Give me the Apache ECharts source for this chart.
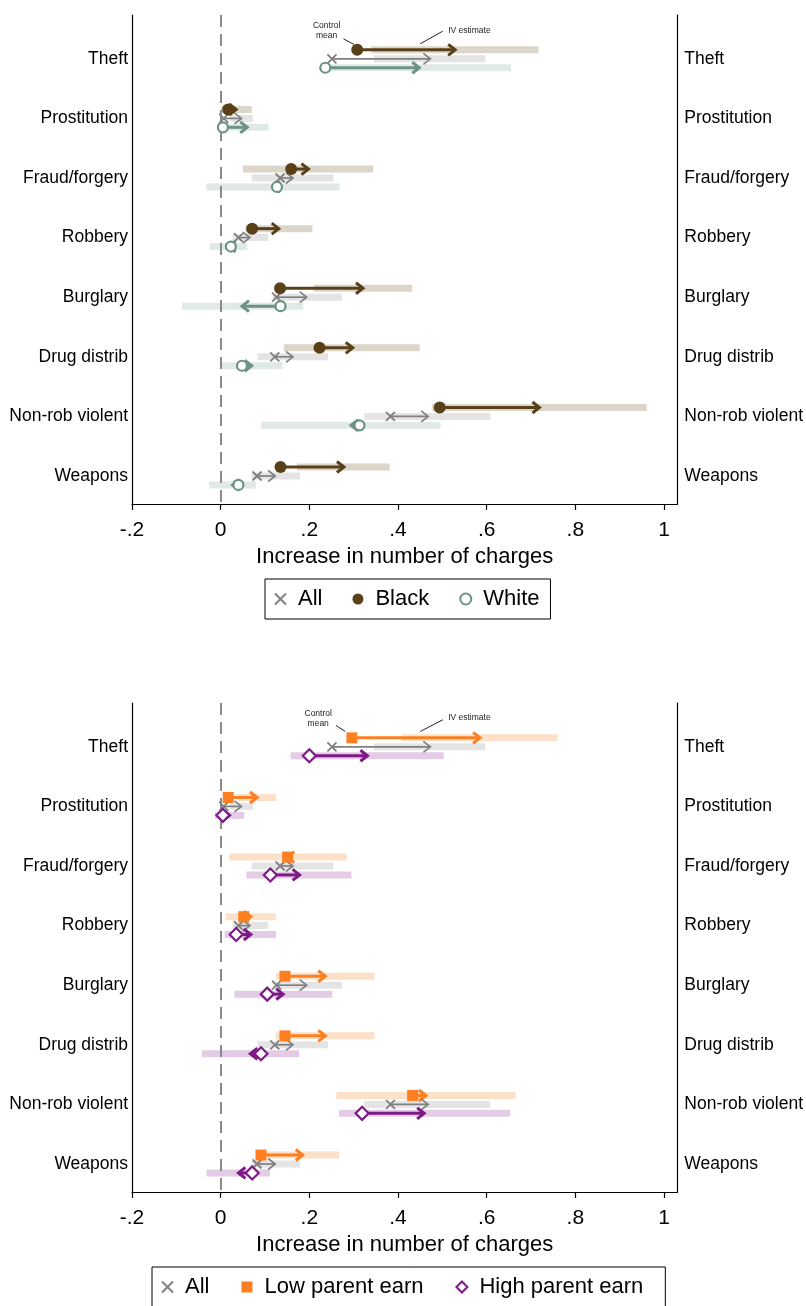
<!DOCTYPE html>
<html>
<head>
<meta charset="utf-8">
<script src="https://cdn.jsdelivr.net/npm/echarts@6/dist/echarts.min.js"></script>
<style>
  html, body { margin: 0; padding: 0; background: #fff; }
  #chart { width: 806px; height: 1306px; }
</style>
</head>
<body>
<div id="chart"></div>
<script>
// categories, top to bottom
const crimes = ['Theft', 'Prostitution', 'Fraud/forgery', 'Robbery', 'Burglary', 'Drug distrib', 'Non-rob violent', 'Weapons'];
const xTicks = [-0.2, 0, 0.2, 0.4, 0.6, 0.8, 1];
const yTicks = [0, 1, 2, 3, 4, 5, 6, 7];

// All (both panels): control mean, mean + IV estimate, CI low, CI high
const allMean = [0.251, 0.007, 0.134, 0.040, 0.126, 0.122, 0.383, 0.082];
const allEst  = [0.473, 0.047, 0.163, 0.066, 0.194, 0.163, 0.468, 0.123];
const allLo   = [0.346, 0.022, 0.070, 0.027, 0.118, 0.083, 0.324, 0.070];
const allHi   = [0.597, 0.073, 0.254, 0.107, 0.274, 0.242, 0.608, 0.179];

// Black
const blackMean = [0.308, 0.017, 0.159, 0.071, 0.134, 0.223, 0.494, 0.135];
const blackEst  = [0.529, 0.035, 0.198, 0.131, 0.321, 0.298, 0.719, 0.278];
const blackLo   = [0.340, 0.001, 0.050, 0.056, 0.210, 0.143, 0.477, 0.172];
const blackHi   = [0.717, 0.070, 0.344, 0.207, 0.432, 0.449, 0.961, 0.381];

// White
const whiteMean = [0.236, 0.005, 0.127, 0.023, 0.135, 0.048, 0.313, 0.040];
const whiteEst  = [0.448, 0.060, 0.118, 0.018, 0.048, 0.070, 0.294, 0.027];
const whiteLo   = [0.241, 0.012, -0.032, -0.024, -0.087, 0.000, 0.091, -0.026];
const whiteHi   = [0.655, 0.108, 0.268, 0.060, 0.186, 0.140, 0.496, 0.080];

// Low parent earn
const lowMean = [0.296, 0.017, 0.151, 0.052, 0.145, 0.145, 0.433, 0.091];
const lowEst  = [0.585, 0.082, 0.150, 0.068, 0.236, 0.236, 0.463, 0.185];
const lowLo   = [0.409, 0.039, 0.019, 0.011, 0.125, 0.124, 0.261, 0.103];
const lowHi   = [0.760, 0.125, 0.284, 0.125, 0.347, 0.347, 0.665, 0.267];

// High parent earn
const highMean = [0.200, 0.005, 0.112, 0.035, 0.105, 0.091, 0.319, 0.071];
const highEst  = [0.331, 0.020, 0.178, 0.068, 0.141, 0.067, 0.459, 0.040];
const highLo   = [0.158, -0.013, 0.058, 0.009, 0.031, -0.042, 0.267, -0.032];
const highHi   = [0.503, 0.053, 0.295, 0.125, 0.252, 0.177, 0.653, 0.111];

// callout notes: text, centre [x, y], pointer [x1, y1, x2, y2]
const noteText = ['Control\nmean', 'IV estimate'];
const notePos1 = [[0.239, -0.475], [0.561, -0.475]];
const noteLine1 = [[0.277, -0.335, 0.301, -0.24], [0.501, -0.464, 0.450, -0.251]];
const notePos2 = [[0.220, -0.48], [0.561, -0.486]];
const noteLine2 = [[0.260, -0.358, 0.281, -0.257], [0.501, -0.453, 0.450, -0.257]];

const FONT = '"Liberation Sans", Arial, Helvetica, sans-serif';
const rowOffset = 0.15;

const myChart = echarts.init(document.getElementById('chart'), null, { renderer: 'canvas' });

function ciSeries(gi, lo, hi, off, color) {
  return {
    type: 'custom', xAxisIndex: gi, yAxisIndex: gi * 2, z: 1, silent: true,
    data: lo.map((v, i) => [v, hi[i], i + off]),
    encode: { x: [0, 1], y: 2 },
    renderItem: (params, api) => {
      const a = api.coord([api.value(0), api.value(2)]);
      const b = api.coord([api.value(1), api.value(2)]);
      return { type: 'rect', shape: { x: a[0], y: a[1] - 3.5, width: b[0] - a[0], height: 7 }, style: { fill: color } };
    }
  };
}

function arrowSeries(gi, mean, est, off, color, lw) {
  return {
    type: 'custom', xAxisIndex: gi, yAxisIndex: gi * 2, z: 3, silent: true,
    data: mean.map((v, i) => [v, est[i], i + off]),
    encode: { x: [0, 1], y: 2 },
    renderItem: (params, api) => {
      const p0 = api.coord([api.value(0), api.value(2)]);
      const p1 = api.coord([api.value(1), api.value(2)]);
      const dir = p1[0] >= p0[0] ? 1 : -1;
      const st = { stroke: color, lineWidth: lw, fill: null, lineCap: 'butt', lineJoin: 'miter' };
      return {
        type: 'group',
        children: [
          { type: 'line', shape: { x1: p0[0], y1: p0[1], x2: p1[0] - dir * 1, y2: p1[1] }, style: st },
          { type: 'polyline', shape: { points: [[p1[0] - dir * 7, p1[1] - 5.5], [p1[0], p1[1]], [p1[0] - dir * 7, p1[1] + 5.5]] }, style: st }
        ]
      };
    }
  };
}

function markerSeries(gi, name, mean, off, symbol, size, itemStyle) {
  return {
    type: 'scatter', name: name, xAxisIndex: gi, yAxisIndex: gi * 2, z: 5, silent: true,
    symbol: symbol, symbolSize: size, itemStyle: Object.assign({ opacity: 1 }, itemStyle),
    data: mean.map((v, i) => [v, i + off])
  };
}

function noteSeries(gi, pos, lines) {
  return {
    type: 'custom', xAxisIndex: gi, yAxisIndex: gi * 2, z: 6, silent: true,
    data: pos.map((p, i) => [p[0], p[1], lines[i][0], lines[i][1], lines[i][2], lines[i][3]]),
    renderItem: (params, api) => {
      const c = api.coord([api.value(0), api.value(1)]);
      const a = api.coord([api.value(2), api.value(3)]);
      const b = api.coord([api.value(4), api.value(5)]);
      return {
        type: 'group',
        children: [
          { type: 'text', x: c[0], y: c[1], style: { text: noteText[params.dataIndex], fontSize: 8.5, lineHeight: 10, fontFamily: FONT, fill: '#222', align: 'center', verticalAlign: 'middle' } },
          { type: 'line', shape: { x1: a[0], y1: a[1], x2: b[0], y2: b[1] }, style: { stroke: '#222', lineWidth: 1 } }
        ]
      };
    }
  };
}

// zero reference line
const zeroLine = {
  silent: true, symbol: 'none', label: { show: false },
  lineStyle: { type: [12, 7], color: '#8a8a8a', width: 2 },
  data: [{ xAxis: 0 }]
};

const tickFmt = v => v === 0 ? '0' : String(Math.round(v * 10) / 10).replace('0.', '.');

function xAxisFor(gi) {
  return {
    type: 'value', gridIndex: gi, min: -0.2, max: 1.03,
    name: 'Increase in number of charges', nameLocation: 'middle', nameGap: 42,
    nameTextStyle: { fontSize: 22, color: '#000', fontFamily: FONT },
    axisLine: { onZero: false, lineStyle: { color: '#000', width: 1.2 } },
    axisTick: { show: true, length: 6, customValues: xTicks, lineStyle: { color: '#000', width: 1.2 } },
    axisLabel: { customValues: xTicks, formatter: tickFmt, fontSize: 21, color: '#000', fontFamily: FONT, margin: 16 },
    splitLine: { show: false }
  };
}

function yAxisFor(gi, pos) {
  return {
    type: 'value', gridIndex: gi, position: pos, min: -0.735, max: 7.47, inverse: true,
    axisLine: { show: true, onZero: false, lineStyle: { color: '#000', width: 1.2 } },
    axisTick: { show: false },
    axisLabel: { customValues: yTicks, formatter: v => crimes[v] || '', fontSize: 17.5, color: '#000', fontFamily: FONT, margin: pos === 'left' ? 4 : 7 },
    splitLine: { show: false }
  };
}

const crossPath = 'path://M0,0L10,10M10,0L0,10';
const allStyle = { color: 'rgba(0,0,0,0)', borderColor: '#808080', borderWidth: 1.8 };

const legendBase = {
  orient: 'horizontal', itemWidth: 11, itemHeight: 11, itemGap: 30,
  borderColor: '#000', borderWidth: 1, padding: [9, 11, 9, 9],
  textStyle: { fontSize: 22, color: '#000', fontFamily: FONT, padding: [0, 0, 0, 7] },
  selectedMode: false
};

myChart.setOption({
  backgroundColor: '#fff',
  animation: false,
  grid: [
    { left: 132, right: 124, top: 15, height: 489 },
    { left: 132, right: 124, top: 703, height: 489 }
  ],
  xAxis: [xAxisFor(0), xAxisFor(1)],
  yAxis: [yAxisFor(0, 'left'), yAxisFor(0, 'right'), yAxisFor(1, 'left'), yAxisFor(1, 'right')],
  legend: [
    Object.assign({}, legendBase, { left: 265, top: 579, data: ['All', 'Black', 'White'] }),
    Object.assign({}, legendBase, { left: 152, top: 1267, padding: [9, 22, 9, 9], itemGap: 32, data: ['All', 'Low parent earn', 'High parent earn'] })
  ],
  series: [
    // top panel: race
    Object.assign(ciSeries(0, blackLo, blackHi, -rowOffset, '#dcd5c9'), { markLine: zeroLine }),
    ciSeries(0, allLo, allHi, 0, '#e4e4e4'),
    ciSeries(0, whiteLo, whiteHi, rowOffset, '#e0e9e5'),
    arrowSeries(0, blackMean, blackEst, -rowOffset, '#5a4019', 3),
    arrowSeries(0, allMean, allEst, 0, '#808080', 1.7),
    arrowSeries(0, whiteMean, whiteEst, rowOffset, '#6c9383', 3),
    markerSeries(0, 'All', allMean, 0, crossPath, 9, allStyle),
    markerSeries(0, 'Black', blackMean, -rowOffset, 'circle', 12, { color: '#5a4019' }),
    markerSeries(0, 'White', whiteMean, rowOffset, 'circle', 10, { color: '#fff', borderColor: '#6c9383', borderWidth: 2.2 }),
    noteSeries(0, notePos1, noteLine1),

    // bottom panel: parent earnings
    Object.assign(ciSeries(1, lowLo, lowHi, -rowOffset, '#fde0c8'), { markLine: zeroLine }),
    ciSeries(1, allLo, allHi, 0, '#e4e4e4'),
    ciSeries(1, highLo, highHi, rowOffset, '#e4cbe6'),
    arrowSeries(1, lowMean, lowEst, -rowOffset, '#fd7f22', 3),
    arrowSeries(1, allMean, allEst, 0, '#808080', 1.7),
    arrowSeries(1, highMean, highEst, rowOffset, '#7d1a86', 3),
    markerSeries(1, 'All', allMean, 0, crossPath, 9, allStyle),
    markerSeries(1, 'Low parent earn', lowMean, -rowOffset, 'rect', 11, { color: '#fd7f22' }),
    markerSeries(1, 'High parent earn', highMean, rowOffset, 'diamond', 13, { color: '#fff', borderColor: '#7d1a86', borderWidth: 2.2 }),
    noteSeries(1, notePos2, noteLine2)
  ]
});
window.addEventListener('resize', () => myChart.resize());
</script>
</body>
</html>
